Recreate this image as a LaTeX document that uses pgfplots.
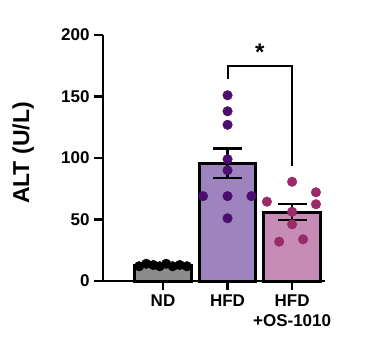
\documentclass[border=0pt]{standalone}
\usepackage{pgfplots}
\pgfplotsset{compat=1.18}
\usepackage{fontspec}
\setmainfont{Liberation Sans}
\definecolor{ndbar}{HTML}{8C8C8C}
\definecolor{hfdbar}{HTML}{9D84BE}
\definecolor{osbar}{HTML}{C78CB5}
\definecolor{hfddot}{HTML}{4B0D6E}
\definecolor{osdot}{HTML}{9B2A6B}
\begin{document}
\begin{tikzpicture}[x=1pt,y=1pt]
\useasboundingbox (-103,-73) rectangle (289,281);
\begin{axis}[
  at={(0,0)}, anchor=south west,
  scale only axis, width=222pt, height=246pt,
  xmin=-0.93, xmax=2.51, ymin=0, ymax=200,
  axis lines=left,
  axis line style={-, line width=2.5pt, black},
  tick align=outside,
  major tick length=9pt,
  tick style={line width=2.5pt, black},
  xtick={0,1,2},
  xticklabels={ND,HFD,HFD\\+OS-1010},
  ytick={0,50,100,150,200},
  /pgf/number format/assume math mode=true,
  ticklabel style={font=\bfseries\fontsize{17}{20}\selectfont},
  xticklabel style={align=center, yshift=-1pt},
  yticklabel style={xshift=-1pt},
  ylabel={ALT (U/L)},
  ylabel style={font=\bfseries\fontsize{23}{24}\selectfont, at={(axis description cs:-0.36,0.52)}, anchor=center},
  clip=false,
]
% bars
\addplot[ybar, bar width=0.88, fill=ndbar, draw=black, line width=3pt] coordinates {(0,12.5)};
\addplot[ybar, bar width=0.88, fill=hfdbar, draw=black, line width=3pt] coordinates {(1,95.9)};
\addplot[ybar, bar width=0.88, fill=osbar, draw=black, line width=3pt] coordinates {(2,56)};
% error bars (mean +- SEM)
\addplot[black, line width=2.5pt] coordinates {(1,83.9) (1,107.9)};
\addplot[black, line width=2.5pt] coordinates {(0.775,107.9) (1.225,107.9)};
\addplot[black, line width=2.5pt] coordinates {(0.775,83.9) (1.225,83.9)};
\addplot[black, line width=2.5pt] coordinates {(2,49.5) (2,62.5)};
\addplot[black, line width=2.5pt] coordinates {(1.775,62.5) (2.225,62.5)};
\addplot[black, line width=2.5pt] coordinates {(1.775,49.5) (2.225,49.5)};
% dots
\addplot[only marks, mark=*, mark size=4.8pt, color=black] coordinates {
(-0.37,12) (-0.26,14) (-0.15,13) (-0.05,12) (0.05,14) (0.15,12) (0.26,13) (0.37,12)};
\addplot[only marks, mark=*, mark size=4.8pt, color=hfddot] coordinates {
(1,151) (1,138) (1,127) (1,99) (1,90) (0.62,69) (1,69) (1.37,69) (1,51)};
\addplot[only marks, mark=*, mark size=4.8pt, color=osdot] coordinates {
(2,80.7) (1.61,64.5) (2.37,72.1) (2.37,62.4) (2,56.3) (2,46.1) (1.8,32) (2.17,33.9)};
% significance
\draw[line width=2pt, black] (axis cs:1,164) -- (axis cs:1,175) -- (axis cs:2,175) -- (axis cs:2,93.5);
\node[font=\bfseries\fontsize{24}{24}\selectfont] at (axis cs:1.5,186) {*};
\end{axis}
\end{tikzpicture}
\end{document}
